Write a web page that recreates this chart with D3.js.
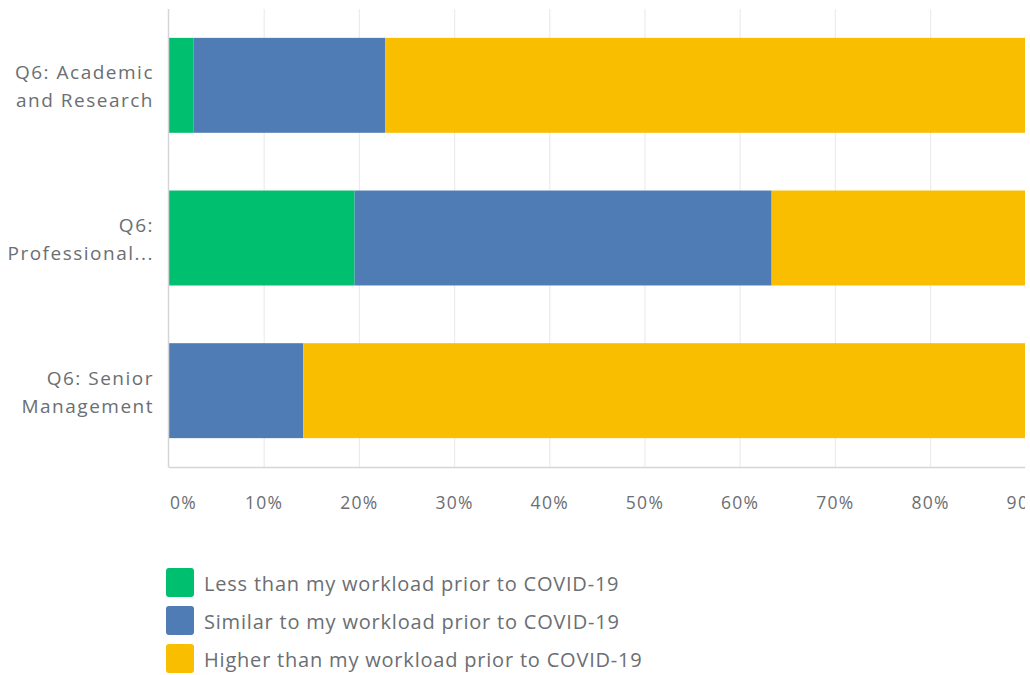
<!DOCTYPE html>
<html><head><meta charset="utf-8">
<script src="https://cdn.jsdelivr.net/npm/d3@7"></script>
<style>body{margin:0;background:#fff;overflow:hidden}svg{display:block}</style>
</head><body><svg id="c" width="1025" height="675"></svg>
<script>
const categories = [["Q6: Academic","and Research"],["Q6:","Professional..."],["Q6: Senior","Management"]];
const categoryKeys = ["Q6: Academic and Research","Q6: Professional...","Q6: Senior Management"];
const seriesNames = ["Less than my workload prior to COVID-19","Similar to my workload prior to COVID-19","Higher than my workload prior to COVID-19"];
const lessValues = [2.6, 19.5, 0];
const similarValues = [20.1, 43.8, 14.1];
const higherValues = [77.3, 36.7, 85.9];
const tickValues = [0,10,20,30,40,50,60,70,80,90,100];
const colors = ["#00bf6f","#507cb6","#f9be00"];

const svg = d3.select("#c");
const font = "'Open Sans', sans-serif";
const textColor = "#6b6e72";
const x = d3.scaleLinear().domain([0,100]).range([169,1121]);
const y = d3.scaleBand().domain(categoryKeys).range([9,467]).paddingInner(0.378).paddingOuter(0.189);

// gridlines
svg.append("g").selectAll("line").data(tickValues.slice(1)).join("line")
  .attr("x1",d=>x(d)).attr("x2",d=>x(d)).attr("y1",9).attr("y2",467)
  .attr("stroke","#ececec").attr("stroke-width",1.2);

const rows = categoryKeys.map((k,i)=>({key:k, s0:lessValues[i], s1:similarValues[i], s2:higherValues[i]}));
const stack = d3.stack().keys(["s0","s1","s2"])(rows);
svg.append("g").selectAll("g").data(stack).join("g").attr("fill",(d,i)=>colors[i])
  .selectAll("rect").data(d=>d).join("rect")
  .attr("x",d=>x(d[0])).attr("width",d=>x(d[1])-x(d[0]))
  .attr("y",d=>y(d.data.key)).attr("height",y.bandwidth());

// axes lines
svg.append("line").attr("x1",169).attr("x2",1030).attr("y1",467.5).attr("y2",467.5).attr("stroke","#d3d5d6").attr("stroke-width",1.5);
svg.append("line").attr("x1",168.5).attr("x2",168.5).attr("y1",9).attr("y2",467.5).attr("stroke","#d3d5d6").attr("stroke-width",1.5);

// x tick labels
svg.append("g").selectAll("text").data(tickValues).join("text")
  .attr("x",d=>d===0?x(d)+1:x(d)).attr("y",509)
  .attr("text-anchor",d=>d===0?"start":"middle")
  .attr("font-family",font).attr("font-size",17.5).attr("letter-spacing",1.3).attr("fill",textColor)
  .text(d=>d+"%");

// y labels
const yl = svg.append("g").selectAll("text").data(categoryKeys).join("text")
  .attr("text-anchor","end").attr("font-family",font).attr("font-size",19).attr("letter-spacing",1.5).attr("fill",textColor);
yl.each(function(d,i){
  const c = y(d)+y.bandwidth()/2;
  d3.select(this).selectAll("tspan").data(categories[i]).join("tspan")
    .attr("x",154).attr("y",(l,j)=>c-6+j*28).text(l=>l);
});

// legend
const lg = svg.append("g").selectAll("g").data(seriesNames).join("g")
  .attr("transform",(d,i)=>`translate(166,${568+i*38})`);
lg.append("rect").attr("width",28).attr("height",29).attr("rx",3).attr("fill",(d,i)=>colors[i]);
lg.append("text").attr("x",38).attr("y",23).attr("font-family",font).attr("font-size",20).attr("letter-spacing",0.8).attr("fill",textColor).text(d=>d);
</script></body></html>
